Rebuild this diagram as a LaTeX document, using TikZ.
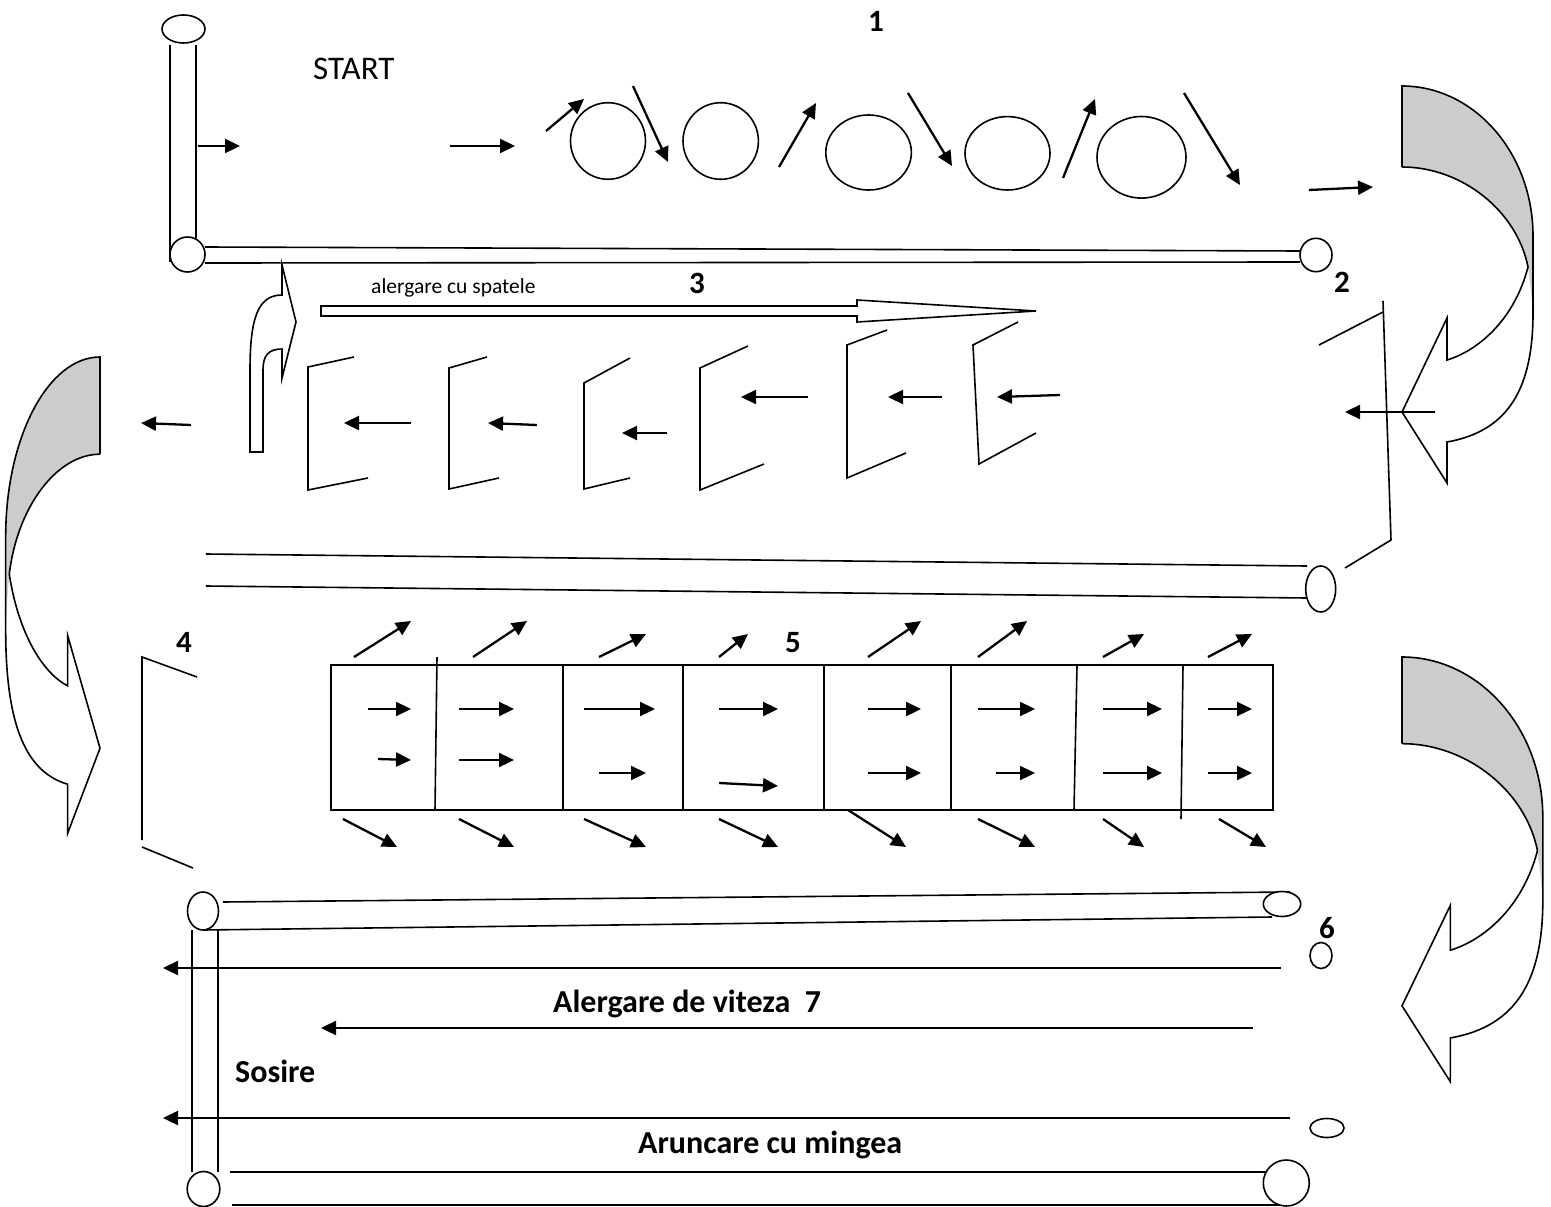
\documentclass[tikz,border=0pt]{standalone}
\usepackage{fontspec}
\setmainfont{Carlito}
\usetikzlibrary{arrows.meta}
\newcommand\bandshape{%
  \fill[bandgray] (0,0) .. controls (72,0) and (131,67) .. (131,150) -- (131,227)
     .. controls (129,205) and (128,195) .. (126,181)
     .. controls (115,125) and (60,81) .. (0,81) -- cycle;
  \draw[ln] (0,81) -- (0,0) .. controls (72,0) and (131,67) .. (131,150) -- (131,227)
     .. controls (131,300) and (108,345) .. (45,356) -- (45,397) -- (0,326) -- (45,232) -- (45,274)
     .. controls (75,265) and (112,235) .. (126,181);
  \draw[ln] (0,81) .. controls (60,81) and (115,125) .. (126,181);
}
\begin{document}
\begin{tikzpicture}[x=1pt,y=-1pt,
  ln/.style={line width=1.6pt,line join=miter},
  arr/.style={line width=2.3pt,-{Triangle[length=15pt,width=14pt]}},
  wfill/.style={ln,fill=white},
  bandgray/.style={fill=black!20},
  lbl/.style={font=\bfseries\fontsize{31}{36}\selectfont,inner sep=0pt,anchor=base},
  btxt/.style={font=\bfseries\fontsize{32}{38}\selectfont,inner sep=0pt,anchor=base west}]
\useasboundingbox (0,0) rectangle (1551,1207);

% ---------- top section ----------
\draw[ln] (170,45) -- (170,262);
\draw[ln] (196,45) -- (196,240);
\draw[ln] (205,247) -- (1300,251);
\draw[ln] (205,263) -- (1300,262);
\draw[wfill] (183.5,29) ellipse [x radius=21.5, y radius=14];
\draw[wfill] (187.5,254.5) circle [radius=17.5];
\draw[wfill] (1316,255) ellipse [x radius=16, y radius=16.7];

\node[font=\fontsize{33}{38}\selectfont,inner sep=0pt,anchor=base west] (start) at (313,80) {START};
\node[lbl] (n1) at (876,32) {1};

\draw[arr] (198,146) -- (240,146);
\draw[arr] (450,146) -- (515,146);

\draw[ln] (608,141) ellipse [x radius=37.5, y radius=38.3];
\draw[ln] (720.7,141) ellipse [x radius=37.7, y radius=38.3];
\draw[ln] (868.6,152.5) ellipse [x radius=42.8, y radius=37.5];
\draw[ln] (1007.5,153.3) ellipse [x radius=42.5, y radius=36.7];
\draw[ln] (1141.5,157.3) ellipse [x radius=44.5, y radius=40.8];

\draw[arr] (546,131) -- (584,99);
\draw[arr] (633,86) -- (668,162);
\draw[arr] (779,167) -- (816,103);
\draw[arr] (908,93) -- (952,166);
\draw[arr] (1063,178) -- (1095,99);
\draw[arr] (1184,93) -- (1240,185);
\draw[arr] (1309,190) -- (1373,187);

% ---------- curved arrows ----------
\begin{scope}[shift={(1402,86)}]
  \bandshape
\end{scope}
\begin{scope}[shift={(1402,657)},xscale=1.075,yscale=1.07]
  \bandshape
\end{scope}
\begin{scope}[shift={(100,357)},xscale=-0.72,yscale=1.2]
  \bandshape
\end{scope}

% ---------- section 2 / 3 ----------
\node[lbl] (n2) at (1342,292) {2};
\draw[ln] (1319,345) -- (1383,312);
\draw[ln] (1383,301) -- (1391,540) -- (1345,568);
\draw[arr] (1435,412) -- (1345,412);

\node[font=\fontsize{21.5}{26}\selectfont,inner sep=0pt,anchor=base west] (spate) at (371,293) {alergare cu spatele};
\node[lbl] (n3) at (697,293) {3};
\draw[ln] (321,306) -- (857,306) -- (857,300) -- (1036,311) -- (857,322) -- (857,316) -- (321,316) -- cycle;

\draw[ln] (250,452) -- (250,370) .. controls (250,318) and (258,295) .. (282,295) -- (282,265) -- (296,322)
  -- (282,378) -- (282,349) .. controls (268,349) and (263,356) .. (263,370) -- (263,452) -- cycle;

\draw[ln] (354,357) -- (308,367) -- (308,490) -- (368,478);
\draw[ln] (487,357) -- (449,368) -- (449,489) -- (499,478);
\draw[ln] (630,358) -- (584,383) -- (584,489) -- (630,478);
\draw[ln] (748,346) -- (700,368) -- (700,490) -- (764,464);
\draw[ln] (887,330) -- (847,345) -- (847,478) -- (906,453);
\draw[ln] (1018,322) -- (973,345) -- (979,464) -- (1036,433);

\draw[arr] (411,423) -- (344,423);
\draw[arr] (537,425) -- (488,423);
\draw[arr] (667,433) -- (622,433);
\draw[arr] (808,397) -- (741,397);
\draw[arr] (942,397) -- (888,397);
\draw[arr] (1060,395) -- (997,397);
\draw[arr] (191,425) -- (141,423);

% middle tube
\draw[ln] (206,554) -- (1307,566);
\draw[ln] (206,586) -- (1307,598);
\draw[wfill] (1320.7,589) ellipse [x radius=15, y radius=23];

% ---------- section 4 / 5 ----------
\node[lbl] (n4) at (184,652) {4};
\draw[ln] (197,677) -- (142,657) -- (142,840);
\draw[ln] (142,847) -- (193,868);

\node[lbl] (n5) at (793,652) {5};
\draw[ln] (331,665) rectangle (1273,810);
\draw[ln] (437,657) -- (435,810);
\draw[ln] (563,665) -- (563,810);
\draw[ln] (683,665) -- (683,810);
\draw[ln] (824,665) -- (824,810);
\draw[ln] (951,665) -- (951,810);
\draw[ln] (1077,666) -- (1074,810);
\draw[ln] (1183,666) -- (1181,819);

\draw[arr] (354,657) -- (411,621);
\draw[arr] (473,657) -- (527,621);
\draw[arr] (599,657) -- (646,634);
\draw[arr] (719,657) -- (748,634);
\draw[arr] (868,657) -- (921,621);
\draw[arr] (978,657) -- (1027,621);
\draw[arr] (1103,657) -- (1144,634);
\draw[arr] (1208,657) -- (1252,634);

\draw[arr] (368,709) -- (411,709);
\draw[arr] (459,709) -- (514,709);
\draw[arr] (584,709) -- (655,709);
\draw[arr] (719,709) -- (778,709);
\draw[arr] (868,709) -- (921,709);
\draw[arr] (978,709) -- (1035,709);
\draw[arr] (1103,709) -- (1162,709);
\draw[arr] (1208,709) -- (1252,709);

\draw[arr] (378,759) -- (411,760);
\draw[arr] (459,760) -- (514,760);
\draw[arr] (599,773) -- (646,773);
\draw[arr] (719,783) -- (778,786);
\draw[arr] (868,773) -- (921,773);
\draw[arr] (996,773) -- (1035,773);
\draw[arr] (1103,773) -- (1162,773);
\draw[arr] (1208,773) -- (1252,773);

\draw[arr] (343,819) -- (397,847);
\draw[arr] (459,819) -- (514,847);
\draw[arr] (584,819) -- (646,847);
\draw[arr] (719,819) -- (778,847);
\draw[arr] (848,810) -- (906,847);
\draw[arr] (978,819) -- (1035,847);
\draw[arr] (1103,819) -- (1144,847);
\draw[arr] (1219,819) -- (1266,847);

% ---------- bottom section ----------
\draw[ln] (223,902) -- (1290,892);
\draw[ln] (203,930) -- (1272,917);
\draw[ln] (192,930) -- (192,1172);
\draw[ln] (218,930) -- (218,1172);
\draw[ln] (230,1172) -- (1272,1172);
\draw[ln] (232,1205) -- (1286,1205);
\draw[wfill] (203,911) ellipse [x radius=15.5, y radius=19];
\draw[wfill] (1282,904) ellipse [x radius=18.7, y radius=12.5];
\draw[wfill] (203.5,1189) ellipse [x radius=16.3, y radius=17.5];
\draw[wfill] (1286.3,1183) circle [radius=23];

\node[lbl] (n6) at (1327,938) {6};
\draw[ln] (1321,955.5) ellipse [x radius=11, y radius=13];
\draw[ln] (1327,1128) ellipse [x radius=17, y radius=9.5];

\draw[arr] (1281,968) -- (163,968);
\draw[arr] (1253,1028) -- (321,1028);
\draw[arr] (1290,1118) -- (163,1118);

\node[btxt] (viteza) at (553,1012) {Alergare de viteza~~7};
\node[btxt] (sosire) at (235,1082) {Sosire};
\node[btxt] (minge) at (638,1153) {Aruncare cu mingea};
\end{tikzpicture}
\end{document}
